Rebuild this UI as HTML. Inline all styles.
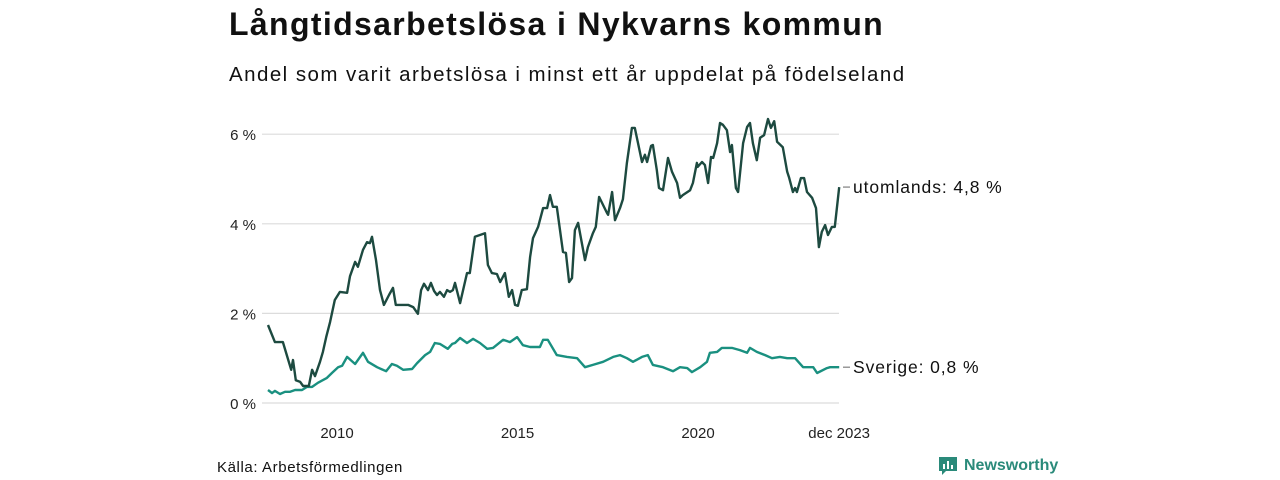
<!DOCTYPE html>
<html><head><meta charset="utf-8">
<style>
body{margin:0;width:1280px;height:480px;background:#fff;font-family:"Liberation Sans",sans-serif;overflow:hidden;position:relative;color:#111}
#title{position:absolute;left:229px;top:6px;font-size:32px;font-weight:bold;margin:0;letter-spacing:1.35px}
#sub{position:absolute;left:229px;top:63px;font-size:20.5px;letter-spacing:1.45px}
#src{position:absolute;left:217px;top:459px;font-size:15px;letter-spacing:0.6px}
#logo{position:absolute;left:938px;top:456px;font-size:16px;font-weight:bold;color:#2a8a7a;display:flex;align-items:center;gap:6px}
svg{position:absolute;left:0;top:0}
</style></head><body>
<h1 id="title">Långtidsarbetslösa i Nykvarns kommun</h1>
<div id="sub">Andel som varit arbetslösa i minst ett år uppdelat på födelseland</div>
<svg id="chart" width="1280" height="480"></svg>
<div id="src">Källa: Arbetsförmedlingen</div>
<div id="logo"><svg width="20" height="20" style="position:static" viewBox="0 0 20 20"><path d="M1 1h18v14H8l-4 4v-4H1z" fill="#2a8a7a"/><rect x="5" y="8" width="2" height="5" fill="#fff"/><rect x="9" y="5" width="2" height="8" fill="#fff"/><rect x="13" y="9" width="2" height="4" fill="#fff"/></svg><span>Newsworthy</span></div>
<script>
const yTicks=[0,2,4,6];
const xTicks=[2010,2015,2020];
const xTickLabels=["2010","2015","2020"];
const utlYears=[2008.09,2008.28,2008.50,2008.61,2008.73,2008.78,2008.86,2008.98,2009.06,2009.22,2009.31,2009.39,2009.53,2009.61,2009.70,2009.81,2009.94,2010.08,2010.28,2010.36,2010.50,2010.58,2010.72,2010.83,2010.91,2010.97,2011.08,2011.19,2011.30,2011.44,2011.55,2011.63,2011.80,2011.97,2012.11,2012.24,2012.33,2012.41,2012.52,2012.60,2012.69,2012.77,2012.85,2012.96,2013.05,2013.13,2013.21,2013.27,2013.41,2013.60,2013.68,2013.82,2014.10,2014.18,2014.29,2014.43,2014.52,2014.65,2014.76,2014.85,2014.93,2015.01,2015.12,2015.26,2015.35,2015.43,2015.57,2015.71,2015.82,2015.90,2015.98,2016.09,2016.26,2016.34,2016.43,2016.51,2016.59,2016.68,2016.87,2016.95,2017.09,2017.17,2017.26,2017.48,2017.51,2017.62,2017.70,2017.84,2017.92,2018.03,2018.17,2018.25,2018.45,2018.53,2018.59,2018.70,2018.75,2018.86,2018.92,2019.03,2019.17,2019.28,2019.42,2019.50,2019.58,2019.78,2019.86,2019.97,2019.99,2020.11,2020.19,2020.28,2020.36,2020.42,2020.53,2020.61,2020.69,2020.80,2020.89,2020.94,2021.05,2021.11,2021.25,2021.36,2021.44,2021.52,2021.63,2021.72,2021.83,2021.94,2022.02,2022.11,2022.19,2022.35,2022.47,2022.52,2022.63,2022.69,2022.74,2022.85,2022.94,2023.02,2023.16,2023.27,2023.35,2023.43,2023.52,2023.60,2023.71,2023.79,2023.91];
const utlValues=[1.74,1.36,1.36,1.07,0.74,0.96,0.51,0.47,0.38,0.38,0.74,0.60,0.92,1.14,1.47,1.81,2.30,2.48,2.46,2.83,3.15,3.04,3.42,3.59,3.57,3.71,3.19,2.52,2.19,2.41,2.57,2.19,2.19,2.19,2.14,1.99,2.52,2.66,2.52,2.68,2.50,2.41,2.48,2.37,2.52,2.48,2.52,2.68,2.23,2.90,2.90,3.71,3.79,3.08,2.90,2.88,2.70,2.90,2.37,2.52,2.19,2.17,2.52,2.54,3.26,3.68,3.93,4.35,4.35,4.64,4.38,4.38,3.37,3.35,2.70,2.79,3.86,4.02,3.19,3.48,3.79,3.93,4.60,4.24,4.20,4.71,4.08,4.35,4.55,5.36,6.14,6.14,5.38,5.54,5.38,5.74,5.76,5.20,4.80,4.75,5.47,5.16,4.91,4.58,4.64,4.75,4.91,5.36,5.27,5.38,5.31,4.91,5.49,5.47,5.80,6.25,6.21,6.09,5.60,5.76,4.80,4.71,5.80,6.16,6.25,5.80,5.42,5.92,5.98,6.34,6.14,6.29,5.83,5.71,5.16,5.04,4.71,4.80,4.71,5.02,5.02,4.71,4.58,4.35,3.48,3.82,3.97,3.75,3.93,3.93,4.82];
const sveYears=[2008.09,2008.20,2008.28,2008.42,2008.56,2008.70,2008.84,2009.03,2009.17,2009.31,2009.47,2009.72,2009.86,2010.03,2010.14,2010.28,2010.50,2010.72,2010.86,2011.11,2011.36,2011.52,2011.66,2011.83,2012.08,2012.22,2012.44,2012.58,2012.71,2012.85,2013.07,2013.19,2013.27,2013.41,2013.60,2013.77,2013.96,2014.16,2014.32,2014.60,2014.79,2014.99,2015.15,2015.35,2015.62,2015.71,2015.84,2016.09,2016.37,2016.65,2016.87,2017.09,2017.37,2017.65,2017.84,2018.03,2018.20,2018.45,2018.61,2018.75,2019.03,2019.31,2019.50,2019.70,2019.83,2020.06,2020.25,2020.33,2020.53,2020.66,2020.94,2021.16,2021.36,2021.44,2021.63,2021.86,2022.05,2022.27,2022.47,2022.69,2022.91,2023.19,2023.30,2023.57,2023.66,2023.79,2023.91];
const sveValues=[0.29,0.22,0.27,0.20,0.25,0.25,0.29,0.29,0.36,0.36,0.45,0.56,0.67,0.80,0.83,1.03,0.87,1.12,0.92,0.80,0.71,0.87,0.83,0.74,0.76,0.89,1.07,1.14,1.34,1.32,1.21,1.32,1.34,1.45,1.34,1.43,1.34,1.21,1.23,1.41,1.36,1.47,1.29,1.25,1.25,1.41,1.41,1.07,1.03,1.00,0.80,0.85,0.92,1.03,1.07,1.00,0.92,1.03,1.07,0.85,0.80,0.71,0.80,0.78,0.69,0.80,0.92,1.12,1.14,1.23,1.23,1.18,1.12,1.23,1.14,1.07,1.00,1.03,1.00,1.00,0.80,0.80,0.67,0.78,0.80,0.80,0.80];
const seriesLabels=["utomlands: 4,8 %","Sverige: 0,8 %"];

const NS="http://www.w3.org/2000/svg";
const svg=document.getElementById('chart');
const X0=262,X1=839;
const xs=yr=>337+(yr-2010)*36.1;
const ys=v=>403-v*44.8;
function mk(t,a){const e=document.createElementNS(NS,t);for(const k in a)e.setAttribute(k,a[k]);svg.appendChild(e);return e;}
yTicks.forEach(t=>{
  const l=mk('line',{x1:X0,x2:X1,y1:ys(t),y2:ys(t),stroke:'#dcdcdc','stroke-width':1.2});
  
  
  const tx=mk('text',{x:256,y:ys(t)+6,'text-anchor':'end','font-size':15,fill:'#222','font-family':'Liberation Sans, sans-serif'});
  tx.textContent=t+' %';
  
  
});
xTicks.forEach((t,i)=>{
  const tx=mk('text',{x:xs(t),y:438,'text-anchor':'middle','font-size':15,fill:'#222','font-family':'Liberation Sans, sans-serif'});
  tx.textContent=xTickLabels[i];
  
  
});
const last=mk('text',{x:xs(2023.91),y:438,'text-anchor':'middle','font-size':15,fill:'#222','font-family':'Liberation Sans, sans-serif'});
last.textContent='dec 2023';


function line(yrs,vals,col,name,lab){
  const d=yrs.map((y,i)=>(i?'L':'M')+xs(y).toFixed(1)+','+ys(vals[i]).toFixed(1)).join('');
  const p=mk('path',{d:d,fill:'none',stroke:col,'stroke-width':2.4,'stroke-linejoin':'round'});
  
  
  const lv=ys(vals[vals.length-1]);
  const t=mk('line',{x1:843,x2:850,y1:lv,y2:lv,stroke:'#666','stroke-width':1});
  
  
  const tx=mk('text',{x:853,y:lv+6,'font-size':17.5,'letter-spacing':0.9,fill:'#111','font-family':'Liberation Sans, sans-serif'});
  tx.textContent=lab;
  
  
}
line(sveYears,sveValues,'#1a9080','sverige-line',seriesLabels[1]);
line(utlYears,utlValues,'#1d4a40','utomlands-line',seriesLabels[0]);
</script>
</body></html>
